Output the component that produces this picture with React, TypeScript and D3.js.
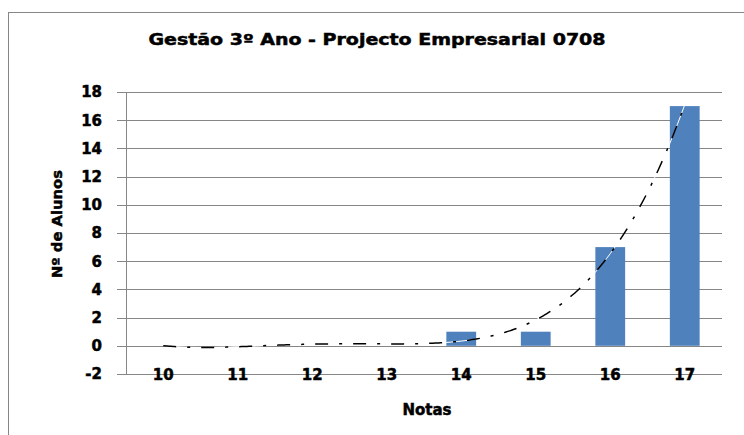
import React from "react";
import * as d3 from "d3";

const title = "Gestão 3º Ano - Projecto Empresarial 0708";
const categories = ["10", "11", "12", "13", "14", "15", "16", "17"];
const values = [0, 0, 0, 0, 1, 1, 7, 17];
const yTicks = [-2, 0, 2, 4, 6, 8, 10, 12, 14, 16, 18];
const yTitle = "Nº de Alunos";
const xTitle = "Notas";
const trendDegree = 4;

// least-squares polynomial fit (Excel-like polynomial trendline)
function polyFit(xs: number[], ys: number[], deg: number): number[] {
  const n = deg + 1;
  const A: number[][] = [];
  for (let i = 0; i < n; i++) {
    const row: number[] = [];
    for (let j = 0; j < n; j++) row.push(d3.sum(xs, (x) => Math.pow(x, i + j)));
    row.push(d3.sum(xs, (x, k) => Math.pow(x, i) * ys[k]));
    A.push(row);
  }
  for (let c = 0; c < n; c++) {
    let p = c;
    for (let r = c + 1; r < n; r++) if (Math.abs(A[r][c]) > Math.abs(A[p][c])) p = r;
    [A[c], A[p]] = [A[p], A[c]];
    for (let r = 0; r < n; r++) {
      if (r === c) continue;
      const f = A[r][c] / A[c][c];
      for (let k = c; k <= n; k++) A[r][k] -= f * A[c][k];
    }
  }
  return A.map((row, i) => row[n] / row[i]);
}

export default function App() {
  const W = 744, H = 435;
  const left = 126, right = 722, top = 92, bottom = 374;
  const x = d3.scaleBand<string>().domain(categories).range([left, right]).paddingInner(0.6).paddingOuter(0.3);
  const xc = (c: string) => (x(c) as number) + x.bandwidth() / 2;
  const y = d3.scaleLinear().domain([-2, 18]).range([bottom, top]);
  const grey = "#868686";
  const font = "'DejaVu Sans', Verdana, sans-serif";
  const heavy = { stroke: "#000", strokeWidth: 0.5 };

  const idx = categories.map((_, i) => i + 1);
  const coef = polyFit(idx, values, trendDegree);
  const f = (t: number) => coef.reduce((s, c, i) => s + c * Math.pow(t, i), 0);
  const xi = d3.scaleLinear().domain([1, categories.length]).range([xc(categories[0]), xc(categories[categories.length - 1])]);
  const pts: [number, number][] = d3.range(1, categories.length + 0.0001, 0.05).map((t) => [xi(t), y(f(t))]);
  const line = d3.line().curve(d3.curveMonotoneX)(pts) || "";

  return (
    <svg width={W} height={H} style={{ position: "fixed", left: 0, top: 0, background: "#fff" }}>
      <rect x={8.5} y={12.5} width={800} height={500} fill="#fff" stroke={grey} strokeWidth={1} />
      <text x={377} y={45} textAnchor="middle" fontFamily={font} fontWeight="bold" fontSize={16} textLength={457} lengthAdjust="spacingAndGlyphs" {...heavy}>
        {title}
      </text>
      {yTicks.map((t) => (
        <g key={t}>
          {t > -2 && <line x1={left} x2={right} y1={Math.round(y(t)) + 0.5} y2={Math.round(y(t)) + 0.5} stroke={grey} />}
          <line x1={117} x2={left} y1={Math.round(y(t)) + 0.5} y2={Math.round(y(t)) + 0.5} stroke={grey} />
          <text x={102} y={y(t)} dy="0.36em" textAnchor="end" fontFamily={font} fontWeight="bold" fontSize={15} {...heavy}>
            {t}
          </text>
        </g>
      ))}
      <line x1={left + 0.5} x2={left + 0.5} y1={top} y2={bottom} stroke={grey} />
      <line x1={left} x2={right} y1={bottom + 0.5} y2={bottom + 0.5} stroke={grey} />
      {categories.map((c, i) => (
        <g key={c}>
          {values[i] !== 0 && (
            <rect x={x(c)} y={y(values[i])} width={x.bandwidth()} height={y(0) - y(values[i])} fill="#4F81BD" />
          )}
          <text x={xc(c)} y={bottom + 1} dy="0.36em" textAnchor="middle" fontFamily={font} fontWeight="bold" fontSize={15} {...heavy}>
            {c}
          </text>
        </g>
      ))}
      <path d={line} fill="none" stroke="#fff" strokeWidth={1} />
      <path d={line} fill="none" stroke="#000" strokeWidth={1.5} strokeDasharray="13,11,3,11" />
      <text x={427} y={415} textAnchor="middle" fontFamily={font} fontWeight="bold" fontSize={15} {...heavy}>
        {xTitle}
      </text>
      <text transform={`translate(62,224) rotate(-90)`} textAnchor="middle" fontFamily={font} fontWeight="bold" fontSize={14} textLength={108} lengthAdjust="spacingAndGlyphs" {...heavy}>
        {yTitle}
      </text>
    </svg>
  );
}
